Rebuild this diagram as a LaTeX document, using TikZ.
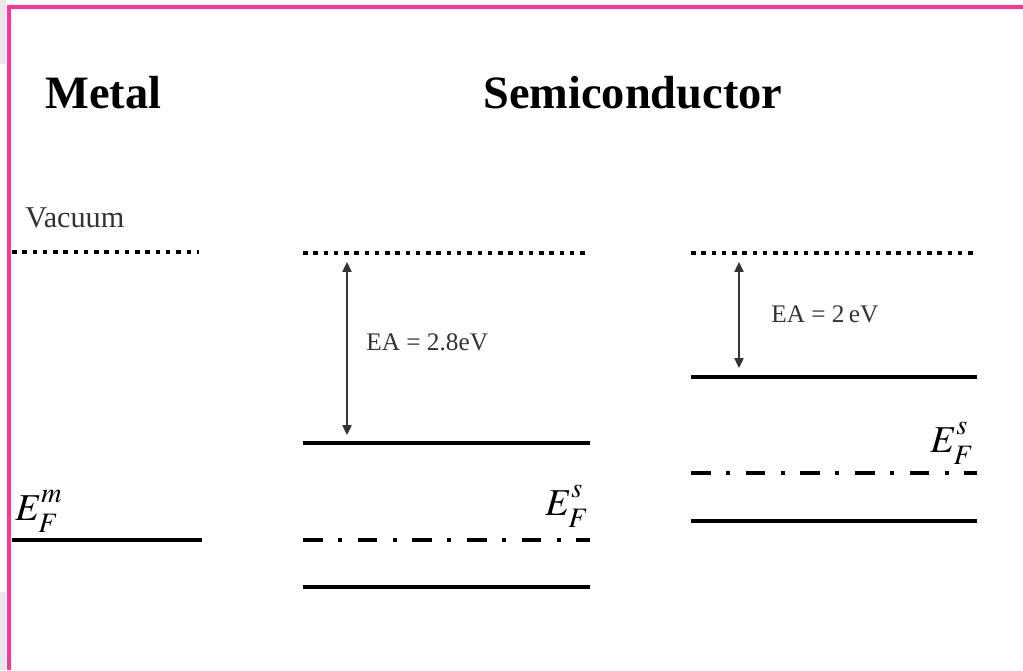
\documentclass[tikz,border=0pt]{standalone}
\usepackage{mathptmx}
\usepackage{fontspec}
\setmainfont{Liberation Serif}
\usepackage{tikz}
\usetikzlibrary{arrows.meta,positioning}
\definecolor{framePink}{HTML}{FF3399}
\definecolor{pageGray}{HTML}{E8E8E8}
\definecolor{textGray}{HTML}{333333}
\newcommand{\fermiE}[1]{$E^{\raisebox{3pt}{$\scriptstyle #1$}}_{\raisebox{-2pt}{$\scriptstyle F$}}$}
\tikzset{
  vacuum level/.style={line width=3.2pt, draw=black,
    dash pattern=on 3.2pt off 4.1pt},
  band edge/.style={line width=2.85pt, draw=black},
  fermi level/.style={line width=2.85pt, draw=black,
    dash pattern=on 14pt off 11pt on 2.85pt off 11pt},
  ea arrow/.style={{Triangle[length=7pt,width=6.5pt]}-{Triangle[length=7pt,width=6.5pt]},
    line width=1pt, draw=textGray},
  heading/.style={font=\fontsize{33}{36}\selectfont\bfseries, inner sep=0pt,
    anchor=base west},
  side label/.style={font=\fontsize{21.5}{24}\selectfont, text=textGray,
    inner sep=0pt, anchor=base west},
  ea label/.style={font=\fontsize{18}{20}\selectfont, text=textGray,
    inner sep=0pt, anchor=base west},
  fermi label/.style={font=\fontsize{27}{30}\selectfont, inner sep=0pt}
}

\begin{document}
\begin{tikzpicture}[x=0.025cm, y=-0.025cm]
  \useasboundingbox (0,0) rectangle (1023,670);
  \fill[white] (0,0) rectangle (1023,670);
  \fill[pageGray] (0,0) rectangle (6,64);
  \fill[pageGray] (0,592) rectangle (6,670);
  \draw[framePink, line width=2.85pt] (9,670) -- (9,7) -- (1023,7);

  \node[heading] (metal) at (45,108) {Metal};
  \node[heading] (semi) at (483,108) {Semiconductor};
  \node[side label] (vac) at (25,227) {Vacuum};

  % metal
  \coordinate (mvacl) at (12,252); \coordinate (mvacr) at (199,252);
  \coordinate (mfl) at (12,540); \coordinate (mfr) at (202,540);
  \draw[vacuum level] (mvacl) -- (mvacr);
  \draw[band edge] (mfl) -- (mfr);
  \node[fermi label, anchor=base west] (efm) at (15,520) {\fermiE{m}};

  % semiconductor, EA = 2.8 eV
  \coordinate (avacl) at (303,253); \coordinate (avacr) at (590,253);
  \coordinate (acbl) at (303,443); \coordinate (acbr) at (590,443);
  \coordinate (afl) at (303,540); \coordinate (afr) at (590,540);
  \coordinate (avbl) at (303,587); \coordinate (avbr) at (590,587);
  \draw[vacuum level] (avacl) -- (avacr);
  \draw[band edge] (acbl) -- (acbr);
  \draw[fermi level] (afl) -- (afr);
  \draw[band edge] (avbl) -- (avbr);
  \coordinate (atop) at (347,262); \coordinate (abot) at (347,435);
  \draw[ea arrow] (atop) -- (abot);
  \node[ea label] (eaa) at (366,350) {EA = 2.8eV};
  \node[fermi label, anchor=base east] (efa) at (589,515) {\fermiE{s}};

  % semiconductor, EA = 2 eV
  \coordinate (bvacl) at (691,253); \coordinate (bvacr) at (977,253);
  \coordinate (bcbl) at (691,377); \coordinate (bcbr) at (977,377);
  \coordinate (bfl) at (691,473); \coordinate (bfr) at (977,473);
  \coordinate (bvbl) at (691,521); \coordinate (bvbr) at (977,521);
  \draw[vacuum level] (bvacl) -- (bvacr);
  \draw[band edge] (bcbl) -- (bcbr);
  \draw[fermi level] (bfl) -- (bfr);
  \draw[band edge] (bvbl) -- (bvbr);
  \coordinate (btop) at (739,262); \coordinate (bbot) at (739,368);
  \draw[ea arrow] (btop) -- (bbot);
  \node[ea label] (eab) at (771,322) {EA = 2\,eV};
  \node[fermi label, anchor=base east] (efb) at (974,452) {\fermiE{s}};
\end{tikzpicture}
\end{document}
